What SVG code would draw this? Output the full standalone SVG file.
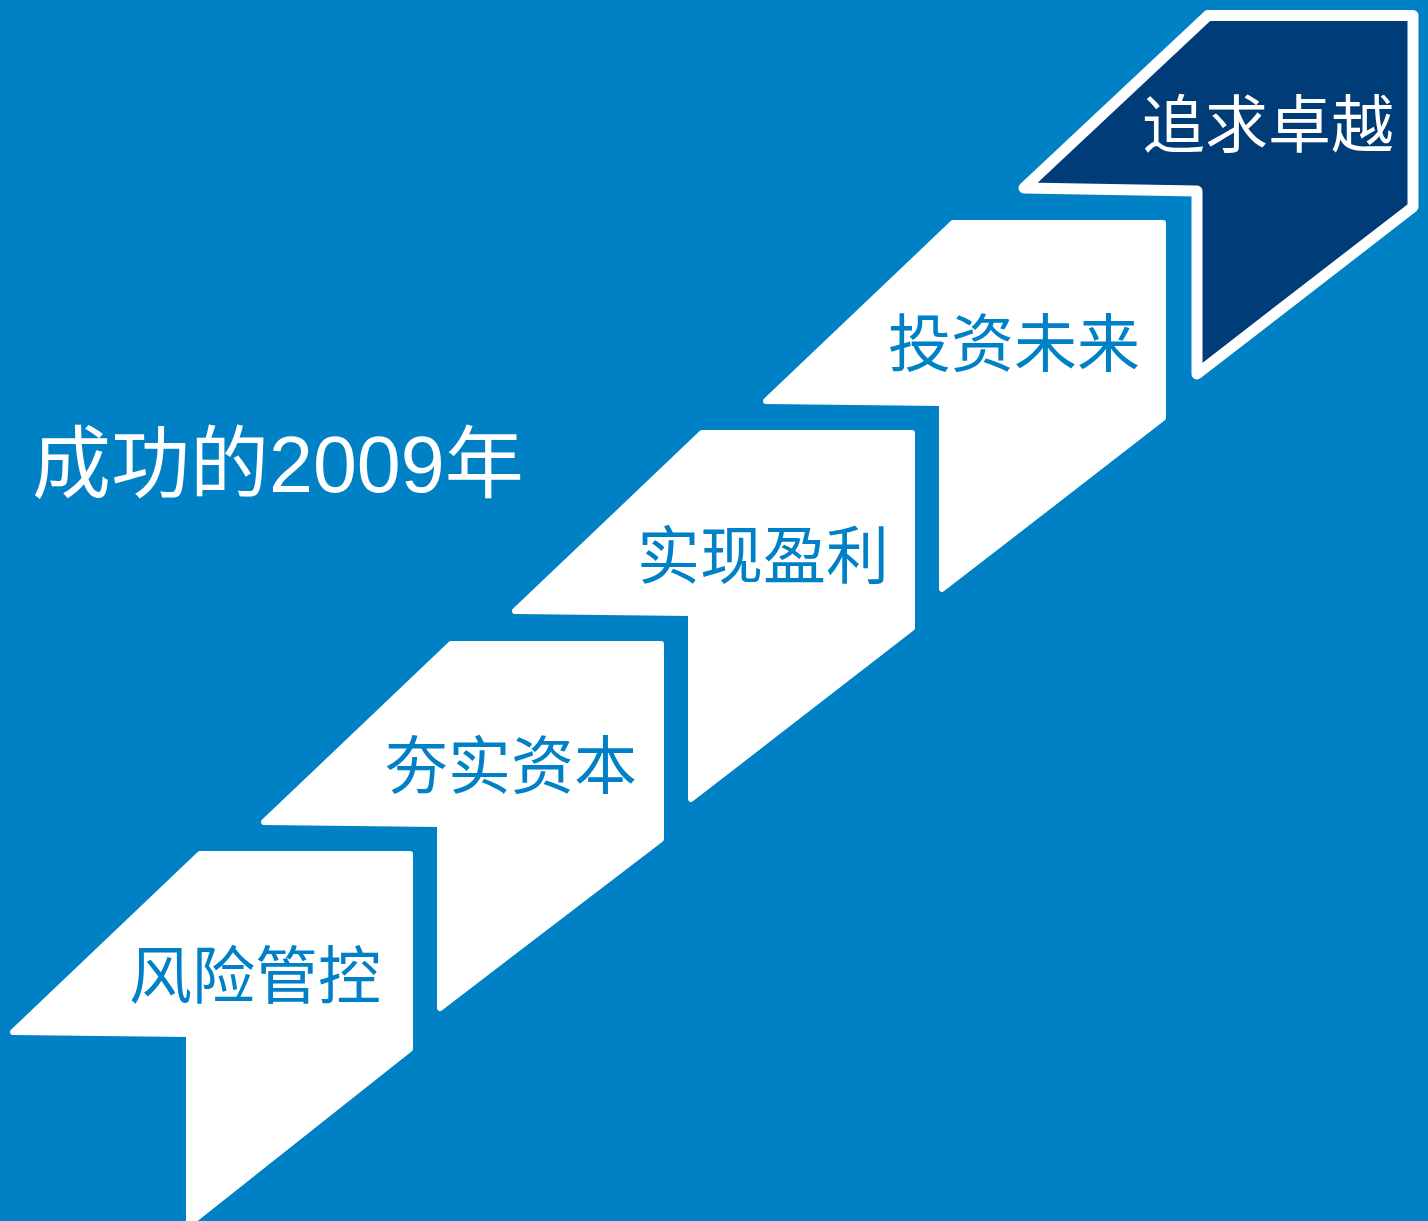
<svg xmlns="http://www.w3.org/2000/svg" width="1428" height="1221" viewBox="0 0 1428 1221">
<style>
.step{fill:#fff;stroke:#fff;stroke-width:6;stroke-linejoin:round}
.top{fill:#003C78;stroke:#fff;stroke-width:11;stroke-linejoin:round}
.lbl{font-family:"Noto Sans CJK SC","Noto Sans CJK TC",sans-serif;font-size:63px;fill:#0080C6;text-anchor:end}
.lblw{font-family:"Noto Sans CJK SC","Noto Sans CJK TC",sans-serif;font-size:63px;fill:#fff;text-anchor:end}
.title{font-family:"Liberation Sans","Noto Sans CJK SC",sans-serif;font-size:79px;fill:#fff}
</style>
<rect width="1428" height="1221" fill="#0081C6"/>
<g id="title"><text class="title" x="32" y="492">成功的2009年</text></g>
<g id="step1">
<polygon class="step" points="200,854 410,854 410,1049 189,1224 189,1034 13,1032"/>
<text class="lbl" x="381" y="998">风险管控</text>
</g>
<g id="step2">
<polygon class="step" points="451,644 661,644 661,839 440,1008 440,824 264,822"/>
<text class="lbl" x="637" y="788">夯实资本</text>
</g>
<g id="step3">
<polygon class="step" points="702,433 912,433 912,628 691,799 691,613 515,611"/>
<text class="lbl" x="889" y="578">实现盈利</text>
</g>
<g id="step4">
<polygon class="step" points="953,223 1163,223 1163,418 942,589 942,403 766,401"/>
<text class="lbl" x="1140" y="366">投资未来</text>
</g>
<g id="step5">
<polygon class="top" points="1208,15.5 1413,15.5 1413,207 1197,374 1197,191 1024,188"/>
<text class="lblw" x="1394" y="147">追求卓越</text>
</g>
<g id="connectors"/>
</svg>
